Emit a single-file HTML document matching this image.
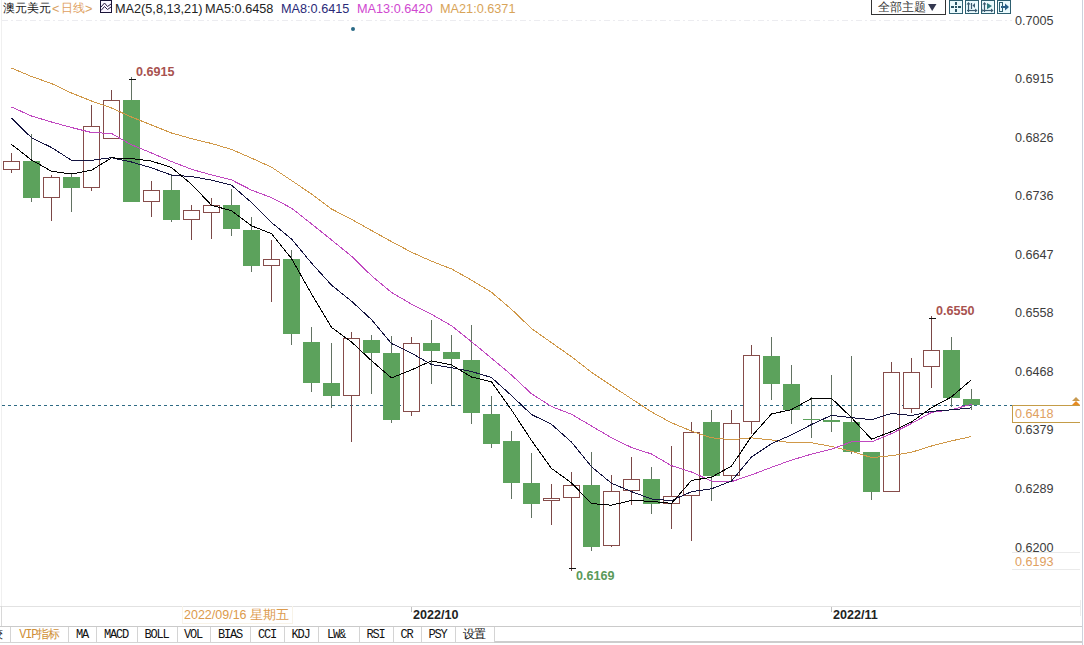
<!DOCTYPE html>
<html><head><meta charset="utf-8"><style>
*{margin:0;padding:0;box-sizing:border-box}
html,body{width:1084px;height:645px;overflow:hidden;background:#fff;font-family:"Liberation Sans",sans-serif}
.a{position:absolute;white-space:nowrap;line-height:1}
.hd{font-size:12.7px;top:3px}
.cj{font-size:12px;top:2px}
.ax{font-size:12.6px;color:#3c3c3c;left:1015px}
.bl{font-size:12.6px;font-weight:bold}
.tab{position:absolute;top:627px;height:16px;font-family:"Liberation Mono",monospace;font-size:12px;letter-spacing:-1.2px;color:#111;text-align:center;line-height:17px}
.sep{position:absolute;top:627px;width:1px;height:15px;background:#d4d4d4}
</style></head><body>
<svg width="1084" height="645" style="position:absolute;left:0;top:0">
<line x1="2" y1="20.5" x2="1012" y2="20.5" stroke="#ececf0" stroke-width="1" stroke-dasharray="6,3,2,3"/>
<line x1="2" y1="405.5" x2="1012" y2="405.5" stroke="#2e6a84" stroke-width="1" stroke-dasharray="3,3"/>
<line x1="11.5" y1="153" x2="11.5" y2="173" stroke="#7a4846"/>
<rect x="3.5" y="161.5" width="16" height="8" fill="#fff" stroke="#864c4a"/>
<line x1="31.5" y1="134" x2="31.5" y2="202" stroke="#627262"/>
<rect x="23" y="161" width="17" height="37" fill="#5ca25c"/>
<line x1="51.5" y1="175" x2="51.5" y2="221" stroke="#7a4846"/>
<rect x="43.5" y="177.5" width="16" height="20" fill="#fff" stroke="#864c4a"/>
<line x1="71.5" y1="174" x2="71.5" y2="212" stroke="#627262"/>
<rect x="63" y="177" width="17" height="11" fill="#5ca25c"/>
<line x1="91.5" y1="105" x2="91.5" y2="191" stroke="#7a4846"/>
<rect x="83.5" y="126.5" width="16" height="61" fill="#fff" stroke="#864c4a"/>
<line x1="111.5" y1="90" x2="111.5" y2="139" stroke="#7a4846"/>
<rect x="103.5" y="100.5" width="16" height="38" fill="#fff" stroke="#864c4a"/>
<line x1="131.5" y1="77" x2="131.5" y2="202" stroke="#627262"/>
<rect x="123" y="100" width="17" height="102" fill="#5ca25c"/>
<line x1="151.5" y1="181" x2="151.5" y2="217" stroke="#7a4846"/>
<rect x="143.5" y="190.5" width="16" height="11" fill="#fff" stroke="#864c4a"/>
<line x1="171.5" y1="174" x2="171.5" y2="222" stroke="#627262"/>
<rect x="163" y="190" width="17" height="30" fill="#5ca25c"/>
<line x1="191.5" y1="205" x2="191.5" y2="240" stroke="#7a4846"/>
<rect x="183.5" y="210.5" width="16" height="9" fill="#fff" stroke="#864c4a"/>
<line x1="211.5" y1="198" x2="211.5" y2="239" stroke="#7a4846"/>
<rect x="203.5" y="205.5" width="16" height="7" fill="#fff" stroke="#864c4a"/>
<line x1="231.5" y1="189" x2="231.5" y2="236" stroke="#627262"/>
<rect x="223" y="205" width="17" height="24" fill="#5ca25c"/>
<line x1="251.5" y1="217" x2="251.5" y2="272" stroke="#627262"/>
<rect x="243" y="230" width="17" height="36" fill="#5ca25c"/>
<line x1="271.5" y1="240" x2="271.5" y2="302" stroke="#7a4846"/>
<rect x="263.5" y="259.5" width="16" height="6" fill="#fff" stroke="#864c4a"/>
<line x1="291.5" y1="250" x2="291.5" y2="345" stroke="#627262"/>
<rect x="283" y="259" width="17" height="75" fill="#5ca25c"/>
<line x1="311.5" y1="327" x2="311.5" y2="392" stroke="#627262"/>
<rect x="303" y="342" width="17" height="41" fill="#5ca25c"/>
<line x1="331.5" y1="343" x2="331.5" y2="408" stroke="#627262"/>
<rect x="323" y="383" width="17" height="13" fill="#5ca25c"/>
<line x1="351.5" y1="332" x2="351.5" y2="442" stroke="#7a4846"/>
<rect x="343.5" y="338.5" width="16" height="57" fill="#fff" stroke="#864c4a"/>
<line x1="371.5" y1="335" x2="371.5" y2="394" stroke="#627262"/>
<rect x="363" y="340" width="17" height="13" fill="#5ca25c"/>
<line x1="391.5" y1="336" x2="391.5" y2="423" stroke="#627262"/>
<rect x="383" y="353" width="17" height="67" fill="#5ca25c"/>
<line x1="411.5" y1="337" x2="411.5" y2="416" stroke="#7a4846"/>
<rect x="403.5" y="343.5" width="16" height="68" fill="#fff" stroke="#864c4a"/>
<line x1="431.5" y1="320" x2="431.5" y2="384" stroke="#627262"/>
<rect x="423" y="343" width="17" height="8" fill="#5ca25c"/>
<line x1="451.5" y1="335" x2="451.5" y2="406" stroke="#627262"/>
<rect x="443" y="352" width="17" height="7" fill="#5ca25c"/>
<line x1="471.5" y1="325" x2="471.5" y2="424" stroke="#627262"/>
<rect x="463" y="360" width="17" height="53" fill="#5ca25c"/>
<line x1="491.5" y1="396" x2="491.5" y2="448" stroke="#627262"/>
<rect x="483" y="414" width="17" height="30" fill="#5ca25c"/>
<line x1="511.5" y1="431" x2="511.5" y2="499" stroke="#627262"/>
<rect x="503" y="441" width="17" height="42" fill="#5ca25c"/>
<line x1="531.5" y1="453" x2="531.5" y2="518" stroke="#627262"/>
<rect x="523" y="483" width="17" height="21" fill="#5ca25c"/>
<line x1="551.5" y1="484" x2="551.5" y2="525" stroke="#7a4846"/>
<rect x="543.5" y="498.5" width="16" height="2" fill="#fff" stroke="#864c4a"/>
<line x1="571.5" y1="472" x2="571.5" y2="571" stroke="#7a4846"/>
<rect x="563.5" y="485.5" width="16" height="12" fill="#fff" stroke="#864c4a"/>
<line x1="591.5" y1="452" x2="591.5" y2="551" stroke="#627262"/>
<rect x="583" y="485" width="17" height="62" fill="#5ca25c"/>
<line x1="611.5" y1="475" x2="611.5" y2="547" stroke="#7a4846"/>
<rect x="603.5" y="491.5" width="16" height="54" fill="#fff" stroke="#864c4a"/>
<line x1="631.5" y1="457" x2="631.5" y2="505" stroke="#7a4846"/>
<rect x="623.5" y="479.5" width="16" height="11" fill="#fff" stroke="#864c4a"/>
<line x1="651.5" y1="467" x2="651.5" y2="514" stroke="#627262"/>
<rect x="643" y="479" width="17" height="25" fill="#5ca25c"/>
<line x1="671.5" y1="446" x2="671.5" y2="529" stroke="#7a4846"/>
<rect x="663.5" y="496.5" width="16" height="7" fill="#fff" stroke="#864c4a"/>
<line x1="691.5" y1="422" x2="691.5" y2="541" stroke="#7a4846"/>
<rect x="683.5" y="432.5" width="16" height="63" fill="#fff" stroke="#864c4a"/>
<line x1="711.5" y1="410" x2="711.5" y2="501" stroke="#627262"/>
<rect x="703" y="422" width="17" height="54" fill="#5ca25c"/>
<line x1="731.5" y1="410" x2="731.5" y2="482" stroke="#7a4846"/>
<rect x="723.5" y="423.5" width="16" height="52" fill="#fff" stroke="#864c4a"/>
<line x1="751.5" y1="345" x2="751.5" y2="434" stroke="#7a4846"/>
<rect x="743.5" y="355.5" width="16" height="66" fill="#fff" stroke="#864c4a"/>
<line x1="771.5" y1="337" x2="771.5" y2="400" stroke="#627262"/>
<rect x="763" y="356" width="17" height="28" fill="#5ca25c"/>
<line x1="791.5" y1="365" x2="791.5" y2="424" stroke="#627262"/>
<rect x="783" y="384" width="17" height="26" fill="#5ca25c"/>
<line x1="811.5" y1="397" x2="811.5" y2="438" stroke="#627262"/>
<rect x="803" y="419" width="17" height="1" fill="#5ca25c"/>
<line x1="831.5" y1="375" x2="831.5" y2="432" stroke="#627262"/>
<rect x="823" y="420" width="17" height="2" fill="#5ca25c"/>
<line x1="851.5" y1="356" x2="851.5" y2="454" stroke="#627262"/>
<rect x="843" y="422" width="17" height="30" fill="#5ca25c"/>
<line x1="871.5" y1="452" x2="871.5" y2="500" stroke="#627262"/>
<rect x="863" y="452" width="17" height="40" fill="#5ca25c"/>
<line x1="891.5" y1="362" x2="891.5" y2="492" stroke="#7a4846"/>
<rect x="883.5" y="372.5" width="16" height="119" fill="#fff" stroke="#864c4a"/>
<line x1="911.5" y1="358" x2="911.5" y2="413" stroke="#7a4846"/>
<rect x="903.5" y="372.5" width="16" height="36" fill="#fff" stroke="#864c4a"/>
<line x1="931.5" y1="316" x2="931.5" y2="388" stroke="#7a4846"/>
<rect x="923.5" y="350.5" width="16" height="16" fill="#fff" stroke="#864c4a"/>
<line x1="951.5" y1="337" x2="951.5" y2="407" stroke="#627262"/>
<rect x="943" y="350" width="17" height="48" fill="#5ca25c"/>
<line x1="971.5" y1="389" x2="971.5" y2="410" stroke="#627262"/>
<rect x="963" y="399" width="17" height="6" fill="#5ca25c"/>
<polyline points="11.5,68.0 31.5,76.5 51.5,83.5 71.5,93.0 91.5,101.0 111.5,108.0 131.5,117.0 151.5,125.0 171.5,133.0 191.5,138.6 211.5,143.5 231.5,149.4 251.5,158.1 271.5,167.2 291.5,180.5 311.5,194.0 331.5,209.0 351.5,219.3 371.5,230.5 391.5,241.6 411.5,252.2 431.5,261.2 451.5,268.9 471.5,280.1 491.5,292.3 511.5,309.3 531.5,328.5 551.5,342.7 571.5,356.7 591.5,372.3 611.5,385.7 631.5,398.8 651.5,411.9 671.5,422.8 691.5,431.1 711.5,437.8 731.5,439.7 751.5,437.8 771.5,440.0 791.5,442.7 811.5,442.7 831.5,446.5 851.5,451.3 871.5,457.6 891.5,455.7 911.5,452.3 931.5,446.0 951.5,440.9 971.5,436.5" fill="none" stroke="#d09848" stroke-width="1" stroke-linejoin="round" shape-rendering="crispEdges"/>
<polyline points="11.5,107.0 31.5,116.0 51.5,122.0 71.5,127.5 91.5,132.5 111.5,133.5 131.5,144.8 151.5,153.0 171.5,161.5 191.5,169.3 211.5,174.9 231.5,179.9 251.5,190.1 271.5,197.7 291.5,208.1 311.5,223.9 331.5,239.9 351.5,256.2 371.5,275.7 391.5,292.4 411.5,304.2 431.5,314.3 451.5,325.7 471.5,341.7 491.5,358.2 511.5,375.0 531.5,393.8 551.5,406.5 571.5,414.3 591.5,426.0 611.5,437.8 631.5,447.5 651.5,454.0 671.5,465.7 691.5,472.0 711.5,481.0 731.5,481.7 751.5,474.9 771.5,467.3 791.5,460.1 811.5,454.1 831.5,449.2 851.5,441.8 871.5,441.9 891.5,433.6 911.5,423.5 931.5,412.4 951.5,409.7 971.5,404.3" fill="none" stroke="#c048c0" stroke-width="1" stroke-linejoin="round" shape-rendering="crispEdges"/>
<polyline points="11.5,118.2 31.5,137.7 51.5,147.5 71.5,160.3 91.5,160.3 111.5,157.7 131.5,162.0 151.5,167.8 171.5,175.1 191.5,176.5 211.5,180.1 231.5,185.2 251.5,202.5 271.5,222.5 291.5,239.0 311.5,263.1 331.5,285.1 351.5,301.2 371.5,319.6 391.5,343.5 411.5,353.1 431.5,364.6 451.5,367.7 471.5,371.5 491.5,377.5 511.5,395.6 531.5,414.5 551.5,424.3 571.5,442.1 591.5,466.7 611.5,483.3 631.5,491.6 651.5,499.0 671.5,500.6 691.5,491.7 711.5,488.8 731.5,481.0 751.5,457.0 771.5,443.6 791.5,434.9 811.5,424.5 831.5,415.3 851.5,417.7 871.5,419.7 891.5,413.4 911.5,415.5 931.5,411.4 951.5,409.8 971.5,407.9" fill="none" stroke="#141440" stroke-width="1" stroke-linejoin="round" shape-rendering="crispEdges"/>
<polyline points="11.5,144.4 31.5,160.0 51.5,171.2 71.5,174.0 91.5,170.2 111.5,157.9 131.5,158.5 151.5,161.1 171.5,167.5 191.5,184.2 211.5,205.3 231.5,210.7 251.5,225.8 271.5,233.7 291.5,258.5 311.5,294.0 331.5,327.4 351.5,342.0 371.5,360.7 391.5,377.9 411.5,369.9 431.5,360.9 451.5,364.9 471.5,377.0 491.5,381.9 511.5,409.9 531.5,440.5 551.5,468.4 571.5,482.9 591.5,503.6 611.5,505.2 631.5,500.4 651.5,501.4 671.5,503.4 691.5,480.4 711.5,477.3 731.5,466.0 751.5,436.4 771.5,414.0 791.5,409.6 811.5,398.5 831.5,398.3 851.5,417.6 871.5,439.2 891.5,431.6 911.5,422.0 931.5,407.7 951.5,396.9 971.5,379.6" fill="none" stroke="#000000" stroke-width="1" stroke-linejoin="round" shape-rendering="crispEdges"/>
<line x1="129" y1="79.5" x2="136" y2="79.5" stroke="#111" stroke-width="1"/>
<line x1="569" y1="568.5" x2="576" y2="568.5" stroke="#111" stroke-width="1"/>
<line x1="929" y1="318.5" x2="936" y2="318.5" stroke="#111" stroke-width="1"/>
<circle cx="353" cy="29" r="2" fill="#2a6a86"/>
</svg>
<div class="a cj" style="left:3px;color:#222">澳元美元</div>
<div class="a hd" style="left:52px;color:#d8a060">&lt;</div>
<div class="a cj" style="left:61px;color:#e0a060">日线</div>
<div class="a hd" style="left:85px;color:#d8a060">&gt;</div>
<svg style="position:absolute;left:100px;top:0" width="12" height="14"><rect x="0.5" y="0.5" width="11" height="12" fill="#faf4ff" stroke="#1a1438"/><polyline points="1,7 4.5,3 7.5,6.5 11,4" fill="none" stroke="#2a1a40" stroke-width="1"/><polyline points="1,10.5 4.5,6.5 7.5,9.5 11,7" fill="none" stroke="#2a1a40" stroke-width="1"/></svg>
<div class="a hd" style="left:115px;color:#222">MA2(5,8,13,21)</div>
<div class="a hd" style="left:205px;color:#222">MA5:0.6458</div>
<div class="a hd" style="left:281px;color:#2a2a78">MA8:0.6415</div>
<div class="a hd" style="left:357px;color:#d048d0">MA13:0.6420</div>
<div class="a hd" style="left:440px;color:#d8a458">MA21:0.6371</div>

<div class="a" style="left:871px;top:-1px;width:75px;height:16px;border:1px solid #333;background:#fff"></div>
<div class="a cj" style="left:878px;top:1px;color:#333">全部主题</div>
<svg style="position:absolute;left:0;top:0" width="1084" height="20">
<polygon points="928,4 936.5,4 932.2,11" fill="#343850"/>
<g fill="#eafafd" stroke="#2d5f70"><rect x="949.5" y="0.5" width="13" height="13"/><rect x="965.5" y="0.5" width="13" height="13"/><rect x="981.5" y="0.5" width="13" height="13"/><rect x="997.5" y="0.5" width="13" height="13"/></g>
<g fill="#2a5566"><rect x="955" y="2" width="2" height="3"/><rect x="955" y="6" width="2" height="2"/><rect x="955" y="9" width="2" height="3"/><rect x="951" y="6" width="3" height="2"/><rect x="958" y="6" width="3" height="2"/></g>
<g stroke="#3a5a70" fill="none" stroke-width="1.2"><line x1="968.5" y1="3" x2="968.5" y2="12"/><line x1="967" y1="10.5" x2="977" y2="10.5"/><line x1="971.5" y1="3" x2="971.5" y2="9"/><line x1="984.5" y1="3" x2="984.5" y2="12"/><line x1="983" y1="10.5" x2="993" y2="10.5"/></g>
<g fill="#3a5a70"><polygon points="966.5,4.5 968.5,2 970.5,4.5"/><polygon points="975,8.5 977.5,10.5 975,12.5"/><polygon points="975,3 975,8 972.5,5.5"/><polygon points="982.5,4.5 984.5,2 986.5,4.5"/><polygon points="991,8.5 993.5,10.5 991,12.5"/><polygon points="982,8.5 983,10.5 982,12.5"/></g>
<polygon points="987,3 992,6 987,9.2" fill="#2f7a80"/>
<rect x="999.5" y="2.5" width="3" height="9" fill="none" stroke="#2d5f70"/>
<g fill="#2a6088"><rect x="1001" y="6" width="5" height="2"/><polygon points="1005,3.5 1009,7 1005,10.5"/></g>
</svg>

<div class="a ax" style="top:15px">0.7005</div>
<div class="a ax" style="top:73px">0.6915</div>
<div class="a ax" style="top:132px">0.6826</div>
<div class="a ax" style="top:190px">0.6736</div>
<div class="a ax" style="top:249px">0.6647</div>
<div class="a ax" style="top:307px">0.6558</div>
<div class="a ax" style="top:366px">0.6468</div>
<div class="a ax" style="top:424px">0.6379</div>
<div class="a ax" style="top:483px">0.6289</div>
<div class="a ax" style="top:542px">0.6200</div>

<div class="a" style="left:1012px;top:405px;width:68px;height:18px;border:1px solid #c49c48;border-right:none;background:#fff"></div>
<div class="a ax" style="top:408px;color:#e0a060">0.6418</div>
<svg style="position:absolute;left:1070px;top:395px" width="12" height="12"><polygon points="2,6 6,2 10,6" fill="#c89a50"/><polygon points="2,10 6,6 10,10" fill="#e88a20"/></svg>
<div class="a" style="left:1012px;top:552px;width:68px;height:18px;border:1px solid #eaeaea;border-left:none;border-right:none"></div>
<div class="a ax" style="top:556px;color:#e0a060">0.6193</div>

<div class="a bl" style="left:136px;top:66px;color:#a8524f">0.6915</div>
<div class="a bl" style="left:936px;top:305px;color:#a8524f">0.6550</div>
<div class="a bl" style="left:576px;top:570px;color:#5a9a5a">0.6169</div>

<div class="a" style="left:0;top:606px;width:1080px;height:1px;background:#e2e2e2"></div>
<div class="a" style="left:1px;top:606px;width:1px;height:20px;background:#d8d8d8"></div>
<div class="a" style="left:1px;top:0;width:1px;height:606px;background:#f0f0f0"></div>
<div class="a" style="left:1080px;top:600px;width:1px;height:16px;background:#ececec"></div>
<div class="a" style="left:0;top:626px;width:1082px;height:1px;background:#cacaca"></div>
<div class="a" style="left:0;top:642px;width:494px;height:1px;background:#d4d4d4"></div>
<div class="a" style="left:494px;top:641px;width:588px;height:2px;background:#cdcdcd"></div>
<div class="a" style="left:182px;top:606px;width:111px;height:18px;border:1px solid #f8f3e8;border-top:none"></div>
<div class="a" style="left:411px;top:607px;width:1px;height:5px;background:#c0c0c0"></div>
<div class="a" style="left:831px;top:607px;width:1px;height:5px;background:#c0c0c0"></div>
<div class="a" style="left:1082px;top:0;width:1px;height:645px;background:#ccd2dc"></div>
<div class="a" style="left:184px;top:609px;font-size:12.5px;color:#dc9a4c">2022/09/16 星期五</div>
<div class="a bl" style="left:413px;top:609px;color:#222">2022/10</div>
<div class="a bl" style="left:833px;top:609px;color:#222">2022/11</div>

<div style="position:absolute;left:0;top:627px;width:3px;height:15px;overflow:hidden"><div class="tab" style="left:-9px;top:0;width:12px;letter-spacing:0">较</div></div>
<div class="sep" style="left:10px"></div>
<div class="tab" style="left:10px;width:58px;color:#d09038">VIP指标</div>
<div class="sep" style="left:68px"></div>
<div class="tab" style="left:68px;width:28px">MA</div>
<div class="sep" style="left:96px"></div>
<div class="tab" style="left:96px;width:40px">MACD</div>
<div class="sep" style="left:137px"></div>
<div class="tab" style="left:137px;width:39px">BOLL</div>
<div class="sep" style="left:177px"></div>
<div class="tab" style="left:177px;width:32px">VOL</div>
<div class="sep" style="left:210px"></div>
<div class="tab" style="left:210px;width:40px">BIAS</div>
<div class="sep" style="left:250px"></div>
<div class="tab" style="left:250px;width:34px">CCI</div>
<div class="sep" style="left:284px"></div>
<div class="tab" style="left:284px;width:33px">KDJ</div>
<div class="sep" style="left:318px"></div>
<div class="tab" style="left:316px;width:40px">LW&amp;</div>
<div class="sep" style="left:359px"></div>
<div class="tab" style="left:359px;width:33px">RSI</div>
<div class="sep" style="left:393px"></div>
<div class="tab" style="left:393px;width:27px">CR</div>
<div class="sep" style="left:421px"></div>
<div class="tab" style="left:421px;width:33px">PSY</div>
<div class="sep" style="left:455px"></div>
<div class="tab" style="left:455px;width:38px">设置</div>
<div class="sep" style="left:494px"></div>
</body></html>
